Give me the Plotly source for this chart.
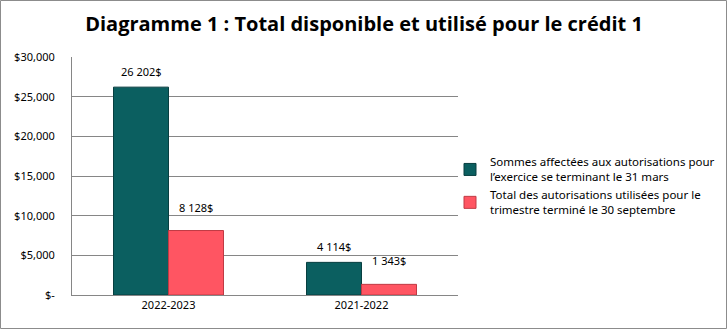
import plotly.graph_objects as go

# Credit 1 data
periods = ["2022-2023", "2021-2022"]
available = [26202, 4114]
used = [8128, 1343]
series_names = [
    "Sommes affectées aux autorisations pour<br>l’exercice se terminant le 31 mars",
    "Total des autorisations utilisées pour le<br>trimestre terminé le 30 septembre",
]
tick_values = [0, 5000, 10000, 15000, 20000, 25000, 30000]
tick_labels = ["$-", "$5,000", "$10,000", "$15,000", "$20,000", "$25,000", "$30,000"]
title_text = "Diagramme 1 : Total disponible et utilisé pour le crédit 1"


def money(v):
    return f"{v:,}".replace(",", " ") + "$"


W, H = 727, 329
L, R, T, B = 72, 269, 57, 34
pw, ph = W - L - R, H - T - B

font_body = "Noto Sans, DejaVu Sans, sans-serif"

fig = go.Figure()
fig.add_trace(go.Bar(
    x=periods, y=available, name=series_names[0], offsetgroup="a",
    marker=dict(color="#0b5f60", line=dict(color="#083f40", width=1)),
    cliponaxis=False,
))
fig.add_trace(go.Bar(
    x=periods, y=used, name=series_names[1], offsetgroup="b",
    marker=dict(color="#ff5562", line=dict(color="#c03a44", width=1)),
    cliponaxis=False,
))

# Value labels above each bar (bars sit at -1/4 and +1/4 of the category slot)
bar_w = (1 - 0.43) / 2
for i, p in enumerate(periods):
    for vals, side, lift in ((available, -1, 14), (used, 1, 22)):
        fig.add_annotation(
            x=i + side * bar_w / 2, y=vals[i], xref="x", yref="y",
            text=money(vals[i]), showarrow=False, yanchor="bottom", yshift=lift - 8,
            font=dict(size=11, color="#000000", family=font_body),
        )

# Outer frame around the whole chart
fig.add_shape(
    type="rect", xref="paper", yref="paper",
    x0=(0.5 - L) / pw, x1=(W - 0.5 - L) / pw,
    y0=-(B - 0.5) / ph, y1=(ph + T - 0.5) / ph,
    line=dict(color="#8c8c8c", width=1), fillcolor="rgba(0,0,0,0)",
    layer="below",
)

fig.update_layout(
    width=W, height=H,
    margin=dict(l=L, r=R, t=T, b=B, autoexpand=False),
    paper_bgcolor="white", plot_bgcolor="white",
    barmode="group", bargap=0.43, bargroupgap=0,
    title=dict(
        text=f"<b>{title_text}</b>",
        x=364 / W, xref="container", xanchor="center",
        y=1 - 24 / H, yref="container", yanchor="middle",
        font=dict(size=20, color="#000000", family="Open Sans, Noto Sans, sans-serif"),
    ),
    showlegend=True,
    legend=dict(
        xref="container", yref="container",
        x=450 / W, xanchor="left", y=1 - 186 / H, yanchor="middle",
        font=dict(size=11.5, color="#000000", family=font_body),
        tracegroupgap=10, itemwidth=30,
        bgcolor="rgba(0,0,0,0)",
    ),
    xaxis=dict(
        showline=True, linecolor="#868686", linewidth=1,
        tickfont=dict(size=11, color="#000000", family=font_body),
        ticks="", showgrid=False,
    ),
    yaxis=dict(
        range=[0, 30000], tickvals=tick_values, ticktext=tick_labels,
        showline=True, linecolor="#868686", linewidth=1,
        showgrid=True, gridcolor="#868686", gridwidth=1,
        tickfont=dict(size=11, color="#000000", family=font_body),
        ticks="", ticklabelstandoff=14, zeroline=False,
    ),
)

fig.write_html("out.html")
